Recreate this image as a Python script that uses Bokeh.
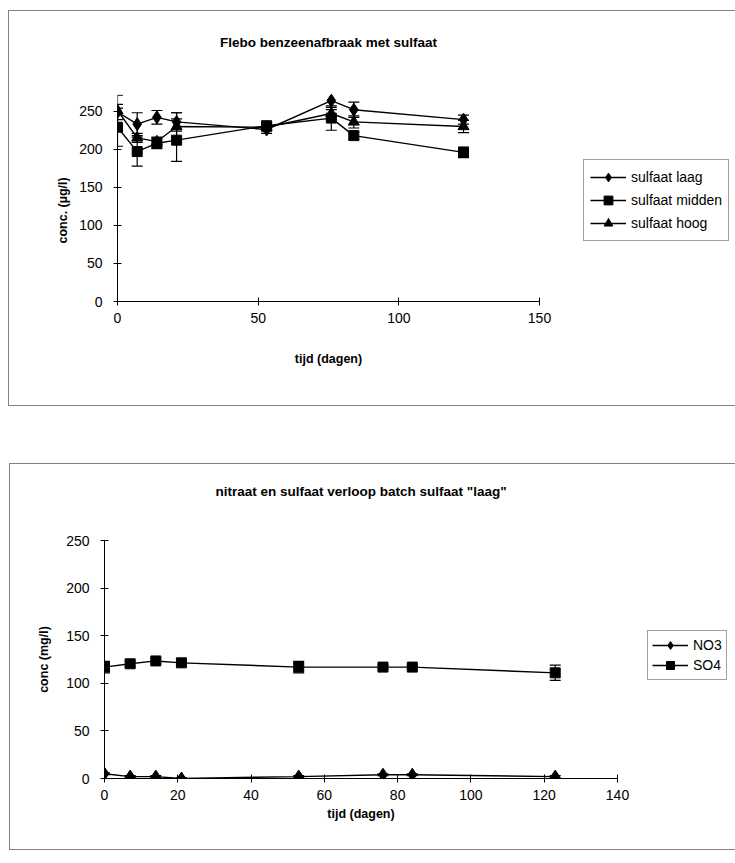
from bokeh.plotting import figure
from bokeh.models import Range1d, ColumnDataSource, Whisker, TeeHead, Legend, LegendItem, Title
from bokeh.embed import file_html
from bokeh.resources import INLINE

# ---- data: top chart ----
days = [0, 7, 14, 21, 53, 76, 84, 123]
laag = [249, 233, 242, 236, 226, 264, 252, 239]
laag_err = [10, 15, 9, 12, 5, 12, 10, 6]
midden = [229, 197, 208, 212, 231, 241, 218, 196]
midden_err = [25, 19, 7, 28, 5, 16, 5, 7]
hoog = [251, 215, 210, 230, 229, 247, 236, 230]
hoog_err = [20, 6, 6, 18, 5, 8, 8, 8]
top_series = [("sulfaat laag", laag, laag_err, "diamond", 13),
              ("sulfaat midden", midden, midden_err, "square", 10),
              ("sulfaat hoog", hoog, hoog_err, "triangle", 11)]

# ---- data: bottom chart ----
days2 = [0, 7, 14, 21, 53, 76, 84, 123]
no3 = [5, 2, 2, 0, 2, 4, 4, 2]
no3_err = [1, 1, 1, 1, 1, 1, 1, 1]
so4 = [117, 120.5, 123.5, 121.5, 117, 117, 117, 111]
so4_err = [6, 3, 3, 3, 6, 2, 2, 8]
bottom_series = [("NO3", no3, no3_err, "diamond", 13),
                 ("SO4", so4, so4_err, "square", 10)]

FONT = "Liberation Sans"


def style(p, xb, yb, ylab_standoff, xlab_standoff, title, spacer_px):
    p.xgrid.visible = False
    p.ygrid.visible = False
    p.outline_line_color = None
    p.xaxis.bounds = xb
    p.yaxis.bounds = yb
    for ax in (p.xaxis[0], p.yaxis[0]):
        ax.axis_line_color = "black"
        ax.major_tick_line_color = "black"
        ax.minor_tick_line_color = None
        ax.major_tick_in = 4
        ax.major_tick_out = 4
        ax.major_label_text_font = FONT
        ax.major_label_text_font_size = "14px"
        ax.major_label_text_color = "black"
        ax.axis_label_text_font = FONT
        ax.axis_label_text_font_size = "12.5px"
        ax.axis_label_text_font_style = "bold"
        ax.axis_label_text_color = "black"
    p.xaxis[0].major_label_standoff = 7
    p.yaxis[0].major_label_standoff = 11
    p.yaxis[0].axis_label_standoff = ylab_standoff
    p.xaxis[0].axis_label_standoff = xlab_standoff
    spacer = Title(text=" ", text_font_size=f"{spacer_px}px", standoff=0)
    p.add_layout(spacer, "above")
    t = Title(text=title, text_font=FONT, text_font_size="13.5px",
              text_font_style="bold", align="center", text_color="black")
    p.add_layout(t, "above")
    p.styles = {"border": "1px solid #808080"}


def add_series(p, x, series, loc, gh, sp, pad):
    items = []
    for name, ys, errs, marker, size in series:
        src = ColumnDataSource(dict(x=x, y=ys,
                                    lo=[a - b for a, b in zip(ys, errs)],
                                    hi=[a + b for a, b in zip(ys, errs)]))
        w = Whisker(source=src, base="x", lower="lo", upper="hi",
                    line_color="black", line_width=1.2,
                    upper_head=TeeHead(size=11, line_color="black", line_width=1.2),
                    lower_head=TeeHead(size=11, line_color="black", line_width=1.2))
        p.add_layout(w)
        l = p.line("x", "y", source=src, line_color="black", line_width=1.4)
        s = p.scatter("x", "y", source=src, marker=marker, size=size,
                      fill_color="black", line_color="black")
        items.append(LegendItem(label=name, renderers=[l, s]))
    leg = Legend(items=items, location=loc, orientation="vertical")
    leg.label_text_font = FONT
    leg.label_text_font_size = "14px"
    leg.label_text_color = "black"
    leg.glyph_width = 36
    leg.glyph_height = gh
    leg.label_standoff = 5
    leg.spacing = sp
    leg.padding = pad
    leg.margin = 0
    leg.border_line_color = "#404040"
    leg.border_line_width = 1
    leg.background_fill_alpha = 1
    p.add_layout(leg, "right")


# ---- top figure ----
p1 = figure(frame_width=422, frame_height=207, output_backend="svg", toolbar_location=None,
            x_range=Range1d(0, 150), y_range=Range1d(0, 272),
            min_border_left=108, min_border_right=194, min_border_top=83,
            min_border_bottom=104,
            x_axis_label="tijd (dagen)")
p1.xaxis.ticker = [0, 50, 100, 150]
p1.yaxis.ticker = [0, 50, 100, 150, 200, 250]
style(p1, (0, 150), (0, 250), 12, 26, "Flebo benzeenafbraak met sulfaat", 34)
p1.add_layout(Title(text="conc. (µg/l)", text_font=FONT, text_font_size="12.5px",
                    text_font_style="bold", align="left", offset=58,
                    text_color="black", standoff=14), "left")
add_series(p1, days, top_series, (44, 60), 22, 1, 6)
p1.margin = (10, 0, 0, 8)

# ---- bottom figure ----
p2 = figure(frame_width=513, frame_height=238, output_backend="svg", toolbar_location=None,
            x_range=Range1d(0, 140), y_range=Range1d(0, 250),
            min_border_left=94, min_border_right=116, min_border_top=76,
            min_border_bottom=71,
            x_axis_label="tijd (dagen)", y_axis_label="conc (mg/l)")
p2.xaxis.ticker = [0, 20, 40, 60, 80, 100, 120, 140]
p2.yaxis.ticker = [0, 50, 100, 150, 200, 250]
style(p2, (0, 140), (0, 250), 12, 4, 'nitraat en sulfaat verloop batch sulfaat "laag"', 31)
add_series(p2, days2, bottom_series, (30, 98), 20, 0, 4)
p2.margin = (57, 0, 0, 9)

open("out.html", "w").write(file_html([p1, p2], INLINE))
